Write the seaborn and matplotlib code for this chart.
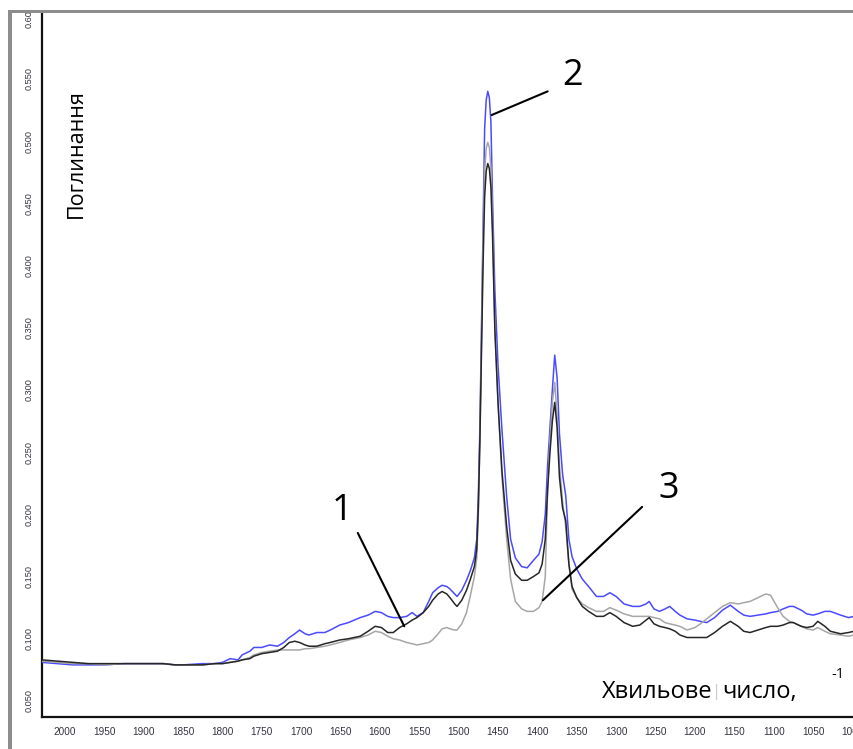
import numpy as np
import pandas as pd
import matplotlib
matplotlib.use("Agg")
import matplotlib.pyplot as plt
from matplotlib.patches import Rectangle
import seaborn as sns

# ---------------- data ----------------
wavenumber = [
    2029, 2010, 1990, 1970, 1950, 1925, 1900, 1875, 1860, 1850, 1825, 1810, 1800,
    1790, 1780, 1775, 1765, 1760, 1750, 1740, 1730, 1722, 1715, 1708, 1702, 1695,
    1690, 1680, 1670, 1663, 1651, 1640, 1625, 1615, 1606, 1598, 1590, 1583, 1575,
    1566, 1559, 1553, 1545, 1538, 1533, 1526, 1521, 1515, 1511, 1505, 1502, 1496,
    1490, 1485, 1480, 1477, 1475, 1473, 1471, 1469, 1467, 1465, 1463, 1461, 1459,
    1457, 1454,
    1450, 1445, 1439, 1434, 1428, 1420, 1413, 1405, 1398, 1394, 1390, 1387, 1384,
    1381, 1378, 1375, 1372, 1368, 1364, 1360, 1356, 1350, 1343, 1335, 1325, 1316,
    1308, 1300, 1290, 1279, 1270, 1262, 1258, 1252, 1245, 1238, 1232, 1225, 1219,
    1210, 1200, 1193, 1185, 1175, 1165, 1155, 1145, 1138, 1130, 1120, 1110, 1104,
    1095, 1088, 1080, 1075, 1065, 1058, 1050, 1044, 1035, 1028, 1015, 1005, 998,
]

absorb_blue = [
    0.081, 0.080, 0.079, 0.079, 0.079, 0.080, 0.080, 0.080, 0.079, 0.079, 0.080, 0.080, 0.081,
    0.084, 0.083, 0.087, 0.090, 0.093, 0.093, 0.095, 0.094, 0.097, 0.101, 0.104, 0.107, 0.104,
    0.103, 0.105, 0.105, 0.107, 0.111, 0.113, 0.117, 0.119, 0.122, 0.121, 0.118, 0.117, 0.117,
    0.118, 0.121, 0.118, 0.121, 0.130, 0.137, 0.141, 0.143, 0.142, 0.140, 0.136, 0.134, 0.139,
    0.147, 0.155, 0.165, 0.180, 0.215, 0.270, 0.350, 0.430, 0.510, 0.533, 0.540, 0.535, 0.515,
    0.455, 0.380,
    0.320, 0.268, 0.214, 0.180, 0.165, 0.158, 0.157, 0.163, 0.168, 0.178, 0.200, 0.240, 0.270,
    0.300, 0.328, 0.310, 0.265, 0.232, 0.215, 0.180, 0.166, 0.156, 0.148, 0.142, 0.134, 0.134,
    0.137, 0.134, 0.128, 0.126, 0.126, 0.128, 0.130, 0.124, 0.122, 0.124, 0.126, 0.122, 0.119,
    0.116, 0.115, 0.114, 0.113, 0.117, 0.123, 0.127, 0.122, 0.119, 0.118, 0.119, 0.120, 0.121,
    0.122, 0.124, 0.126, 0.126, 0.123, 0.120, 0.119, 0.120, 0.122, 0.122, 0.119, 0.117, 0.118,
]

absorb_black = [
    0.083, 0.082, 0.081, 0.080, 0.080, 0.080, 0.080, 0.080, 0.079, 0.079, 0.079, 0.080, 0.080,
    0.081, 0.082, 0.083, 0.084, 0.086, 0.088, 0.089, 0.090, 0.093, 0.097, 0.098, 0.097, 0.095,
    0.094, 0.094, 0.096, 0.097, 0.099, 0.100, 0.102, 0.106, 0.110, 0.109, 0.105, 0.105, 0.109,
    0.112, 0.115, 0.117, 0.121, 0.126, 0.131, 0.136, 0.138, 0.136, 0.133, 0.128, 0.126, 0.131,
    0.139, 0.148, 0.158, 0.172, 0.205, 0.260, 0.330, 0.400, 0.455, 0.476, 0.482, 0.478, 0.463,
    0.425, 0.348,
    0.290, 0.235, 0.190, 0.163, 0.152, 0.147, 0.147, 0.150, 0.153, 0.160, 0.180, 0.220, 0.250,
    0.275, 0.290, 0.270, 0.230, 0.205, 0.195, 0.160, 0.142, 0.133, 0.126, 0.122, 0.118, 0.118,
    0.121, 0.118, 0.113, 0.110, 0.111, 0.115, 0.117, 0.112, 0.110, 0.109, 0.108, 0.106, 0.103,
    0.101, 0.101, 0.101, 0.101, 0.105, 0.110, 0.114, 0.110, 0.106, 0.105, 0.107, 0.109, 0.110,
    0.110, 0.111, 0.113, 0.113, 0.110, 0.109, 0.110, 0.114, 0.110, 0.106, 0.104, 0.105, 0.106,
]

absorb_gray = [
    0.082, 0.081, 0.080, 0.080, 0.079, 0.080, 0.080, 0.080, 0.079, 0.079, 0.079, 0.080, 0.080,
    0.081, 0.082, 0.083, 0.085, 0.087, 0.089, 0.090, 0.091, 0.091, 0.091, 0.091, 0.091, 0.092,
    0.092, 0.093, 0.094, 0.095, 0.097, 0.099, 0.101, 0.103, 0.106, 0.105, 0.102, 0.100, 0.099,
    0.097, 0.096, 0.095, 0.096, 0.097, 0.099, 0.104, 0.108, 0.109, 0.108, 0.107, 0.107, 0.112,
    0.121, 0.135, 0.150, 0.165, 0.200, 0.260, 0.340, 0.420, 0.475, 0.494, 0.499, 0.495, 0.478,
    0.435, 0.350,
    0.290, 0.230, 0.180, 0.148, 0.130, 0.124, 0.122, 0.122, 0.125, 0.130, 0.150, 0.220, 0.260,
    0.290, 0.306, 0.280, 0.240, 0.210, 0.190, 0.160, 0.140, 0.133, 0.128, 0.125, 0.122, 0.122,
    0.125, 0.123, 0.120, 0.118, 0.118, 0.118, 0.118, 0.117, 0.116, 0.113, 0.112, 0.111, 0.110,
    0.107, 0.109, 0.112, 0.116, 0.121, 0.126, 0.129, 0.128, 0.129, 0.130, 0.133, 0.136, 0.135,
    0.125, 0.118, 0.114, 0.113, 0.110, 0.108, 0.107, 0.109, 0.106, 0.104, 0.103, 0.102, 0.103,
]

x_ticks = [2000, 1950, 1900, 1850, 1800, 1750, 1700, 1650, 1600, 1550, 1500,
           1450, 1400, 1350, 1300, 1250, 1200, 1150, 1100, 1050, 1000]
y_ticks = [0.050, 0.100, 0.150, 0.200, 0.250, 0.300, 0.350, 0.400, 0.450,
           0.500, 0.550, 0.600]

ann_labels = ["1", "2", "3"]
ann_text_xy = [(1648, 0.203), (1355, 0.552), (1233, 0.220)]
ann_line_start = [(1628, 0.185), (1387, 0.540), (1267, 0.206)]
ann_line_end = [(1569, 0.110), (1458, 0.521), (1393, 0.131)]

y_title = "Поглинання"
x_title_a = "Хвильове"
x_title_b = "число,"
x_title_sup = "-1"

# ---------------- figure ----------------
sns.set_style("white")
plt.rcParams["font.family"] = ["Open Sans", "DejaVu Sans"]

W, H = 854, 749
fig = plt.figure(figsize=(W / 100, H / 100), dpi=100)
ax = fig.add_axes([42 / W, 1 - 717 / H, (W - 42) / W, (717 - 13) / H])

df = pd.DataFrame({
    "wn": wavenumber,
    "blue": absorb_blue,
    "black": absorb_black,
    "gray": absorb_gray,
})

sns.lineplot(data=df, x="wn", y="blue", ax=ax, color="#4a4aff", lw=1.1, zorder=3)
sns.lineplot(data=df, x="wn", y="gray", ax=ax, color="#a6a6a6", lw=1.1, zorder=4)
sns.lineplot(data=df, x="wn", y="black", ax=ax, color="#262626", lw=1.1, zorder=5)

ax.set_xlim(2029, 998)
ax.set_ylim(0.0371, 0.603)
ax.set_xticks(x_ticks)
ax.set_xticklabels([str(v) for v in x_ticks], fontfamily="Liberation Sans",
                   fontsize=7.2, color="#33333f")
ax.set_yticks(y_ticks)
ax.set_yticklabels([f"{v:.3f}" for v in y_ticks], fontfamily="Liberation Sans",
                   fontsize=6.6, color="#33333f", rotation=90, va="center")
ax.tick_params(axis="x", direction="out", length=3, width=1, pad=4, color="#222222")
ax.tick_params(axis="y", direction="out", length=3, width=1, pad=3, color="#222222")
ax.set_xlabel("")
ax.set_ylabel("")
for s in ["top", "right"]:
    ax.spines[s].set_visible(False)
for s in ["left", "bottom"]:
    ax.spines[s].set_color("#111111")
    ax.spines[s].set_linewidth(1.6)

# annotations
for lab, txy, ls, le in zip(ann_labels, ann_text_xy, ann_line_start, ann_line_end):
    ax.annotate("", xy=le, xytext=ls,
                arrowprops=dict(arrowstyle="-", color="black", lw=1.5,
                                shrinkA=0, shrinkB=0), zorder=6)
    ax.text(txy[0], txy[1], lab, fontsize=26, ha="center", va="center",
            color="black", zorder=6)

# axis titles
fig.text(76 / W, 1 - 154 / H, y_title, rotation=90, ha="center", va="center",
         fontsize=15.5, color="black")
fig.text(602 / W, 1 - 692 / H, x_title_a, ha="left", va="center",
         fontsize=17, color="black")
fig.text(717 / W, 1 - 692 / H, "|", ha="center", va="center",
         fontsize=12, color="#c8c8c8")
fig.text(722 / W, 1 - 692 / H, x_title_b, ha="left", va="center",
         fontsize=17, color="black")
fig.text(838 / W, 1 - 674 / H, x_title_sup, ha="center", va="center",
         fontsize=10.5, color="black")

# outer frame (grey border on top and left)
fig.patches.append(Rectangle((0, 1 - 10 / H), 1, 10 / H, transform=fig.transFigure,
                             facecolor="white", edgecolor="none", zorder=10))
fig.patches.append(Rectangle((0, 0), 8 / W, 1, transform=fig.transFigure,
                             facecolor="white", edgecolor="none", zorder=10))
fig.patches.append(Rectangle((8 / W, 1 - 13 / H), 1, 3 / H, transform=fig.transFigure,
                             facecolor="#8c8c8c", edgecolor="none", zorder=11))
fig.patches.append(Rectangle((8 / W, 0), 4 / W, 1 - 10 / H, transform=fig.transFigure,
                             facecolor="#8c8c8c", edgecolor="none", zorder=11))

fig.savefig("out.png", dpi=100)
